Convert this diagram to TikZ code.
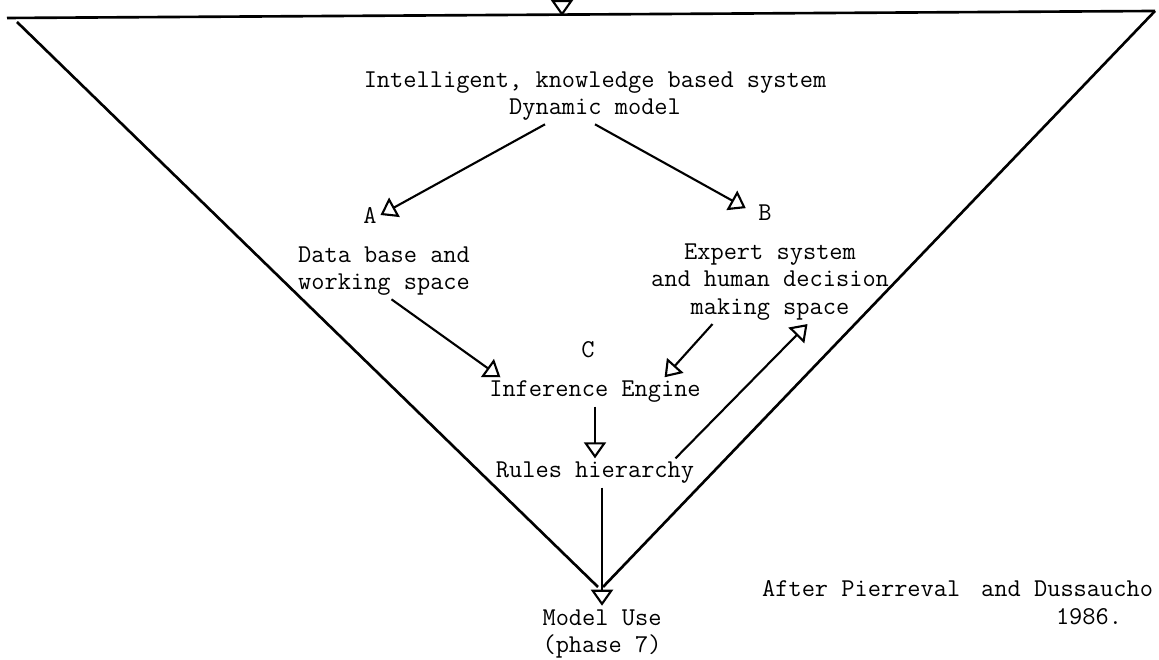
\documentclass[tikz,border=0pt]{standalone}
\usetikzlibrary{arrows.meta}

\begin{document}
\begin{tikzpicture}[
	font=\ttfamily\fontsize{14.6}{15.6}\selectfont,
	txt/.style={inner sep=2pt, align=center},
	arr/.style={line width=1.2pt, -{Triangle[open,width=0.44cm,length=0.32cm,line width=1.2pt]}},
	edge/.style={line width=1.5pt}
]
	\useasboundingbox (0,0) rectangle (23.18,13.2);
	% the funnel
	\coordinate (topl) at (0.14,12.84);
	\coordinate (tl) at (0.34,12.76);
	\coordinate (tr) at (23.10,12.98);
	\coordinate (vl) at (11.96,1.46);
	\coordinate (vr) at (12.06,1.46);
	\coordinate (in) at (11.24,13.2);
	\coordinate (intip) at (11.24,12.88);
	\draw[edge] (topl) -- (tr);
	\draw[edge] (tl) -- (vl);
	\draw[edge] (tr) -- (vr);
	\draw[arr] (in) -- (intip);

	% texts
	\node[txt] (kbs) at (11.9,11.28) {Intelligent, knowledge based system\\Dynamic model};
	\node[txt] (A) at (7.40,8.90) {A};
	\node[txt] (B) at (15.30,8.94) {B};
	\node[txt] (dbws) at (7.68,7.78) {Data base and\\working space};
	\node[txt] (expert) at (15.40,7.56) {Expert system\\and human decision\\making space};
	\node[txt] (C) at (11.76,6.20) {C};
	\node[txt] (inf) at (11.90,5.36) {Inference Engine};
	\node[txt] (rules) at (11.90,3.74) {Rules hierarchy};
	\node[txt] (use) at (12.04,0.52) {Model Use\\(phase 7)};
	\node[txt, inner sep=1pt, anchor=west] (after) at (15.20,1.42) {After Pierreval\hspace{0.3em} and Dussaucho};
	\node[txt, inner sep=1pt] (year) at (21.78,0.86) {1986.};

	% arrows
	\draw[arr] ([xshift=-1cm]kbs.south) -- (A.east);
	\draw[arr, shorten >=0.2cm] (kbs.south) -- (B.west);
	\draw[arr] ([xshift=0.15cm]dbws.south) -- ([xshift=0.3cm]inf.north west);
	\draw[arr] ([xshift=-1.15cm]expert.south) -- ([xshift=-0.8cm]inf.north east);
	\draw[arr] (inf.south) -- (rules.north);
	\draw[arr] ([xshift=-0.45cm]rules.north east) -- ([xshift=0.75cm]expert.south);
	\draw[arr] (rules.south -| use.north) -- (use.north);
\end{tikzpicture}
\end{document}
